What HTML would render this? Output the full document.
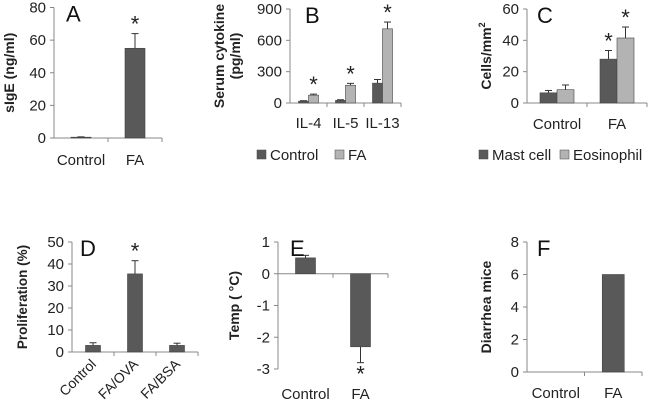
<!DOCTYPE html>
<html><head><meta charset="utf-8"><style>
html,body{margin:0;padding:0;background:#fff}
svg{display:block;font-family:"Liberation Sans",sans-serif}
</style></head><body>
<svg id="fig" width="650" height="413" viewBox="0 0 650 413"></svg>
<script>
// Panel A
const aCats = ["Control","FA"];
const aVals = [0.5,55];
const aErrs = [0.2,9];
const aTicks = [0,20,40,60,80];
// Panel B
const bCats = ["IL-4","IL-5","IL-13"];
const bControl = [18,25,190];
const bControlErr = [4,6,35];
const bFA = [75,170,710];
const bFAErr = [10,18,65];
const bTicks = [0,300,600,900];
// Panel C
const cCats = ["Control","FA"];
const cMast = [6.5,28];
const cMastErr = [1.5,5.5];
const cEos = [8.5,41.5];
const cEosErr = [3,7];
const cTicks = [0,20,40,60];
// Panel D
const dCats = ["Control","FA/OVA","FA/BSA"];
const dVals = [3,35.5,3];
const dErrs = [1.2,6,1];
const dTicks = [0,10,20,30,40,50];
// Panel E
const eCats = ["Control","FA"];
const eVals = [0.5,-2.3];
const eErrs = [0.08,0.5];
const eTicks = [-3,-2,-1,0,1];
// Panel F
const fCats = ["Control","FA"];
const fVals = [0,6];
const fTicks = [0,2,4,6,8];

const NS="http://www.w3.org/2000/svg";
const svg=document.getElementById('fig');
const DARK="#595959", LIGHT="#b3b3b3", AX="#888";
function mk(tag,attrs,parent){const e=document.createElementNS(NS,tag);for(const k in attrs)e.setAttribute(k,attrs[k]);(parent||svg).appendChild(e);return e;}
function txt(s,attrs,parent){const e=mk('text',attrs,parent);e.textContent=s;return e;}

function panel(p){
  const g=mk('g',{});
  
  
  const min=p.ticks[0],max=p.ticks[p.ticks.length-1];
  const ys=v=>p.yBot-(v-min)/(max-min)*(p.yBot-p.yTop);
  const n=p.cats.length, cw=(p.x1-p.x0)/n;
  const base=ys(p.baseVal||0);
  const ya=mk('line',{x1:p.x0,y1:ys(max),x2:p.x0,y2:ys(min),stroke:AX,'stroke-width':1},g);
  
  
  p.ticks.forEach(t=>{
    mk('line',{x1:p.x0-4,y1:ys(t),x2:p.x0,y2:ys(t),stroke:AX},g);
    const tl=txt(String(t),{x:p.x0-8,y:ys(t)+5,'text-anchor':'end','font-size':15,fill:'#222'},g);
    
    
  });
  const xa=mk('line',{x1:p.x0,y1:base,x2:p.x1,y2:base,stroke:AX},g);
  
  
  for(let i=1;i<=n;i++) mk('line',{x1:p.x0+i*cw,y1:base,x2:p.x0+i*cw,y2:base+4,stroke:AX},g);
  p.series.forEach((s,si)=>{
    s.vals.forEach((v,i)=>{
      if(v===0) return;
      const cx=p.x0+(i+0.5)*cw;
      const x=cx-p.bw*p.series.length/2+si*p.bw;
      const y0=ys(v);
      const r=mk('rect',{x:x,y:Math.min(y0,base),width:p.bw,height:Math.max(Math.abs(base-y0),0.8),fill:s.color,stroke:'#444','stroke-width':0.6},g);
      
      
      if(s.errs){
        const e=s.errs[i], bx=x+p.bw/2, ye=ys(v<0?v-e:v+e);
        mk('line',{x1:bx,y1:y0,x2:bx,y2:ye,stroke:'#333','stroke-width':1},g);
        mk('line',{x1:bx-3.5,y1:ye,x2:bx+3.5,y2:ye,stroke:'#333','stroke-width':1},g);
        if(s.stars&&s.stars[i]){
          const st=txt('*',{x:bx,y:v<0?ye+19:ye-2,'text-anchor':'middle','font-size':22,fill:'#222'},g);
          
          
        }
      }
    });
  });
  p.cats.forEach((c,i)=>{
    const cx=p.x0+(i+0.5)*cw;
    let t;
    if(p.rotate){
      t=txt(c,{x:cx+4,y:p.labelY,'text-anchor':'end','font-size':14,fill:'#222',transform:`rotate(-45 ${cx+4} ${p.labelY})`},g);
    } else {
      t=txt(c,{x:cx,y:p.labelY,'text-anchor':'middle','font-size':15,fill:'#222'},g);
    }
    
    
  });
  const L=txt(p.letter,{x:p.letterX,y:p.yTop+14,'font-size':22,fill:'#111'},g);
  
  
  p.ytitle.forEach((line,k)=>{
    const tx=p.titleX+k*16, ty=(p.yTop+p.yBot)/2;
    const t=mk('text',{x:tx,y:ty,'text-anchor':'middle','font-size':p.titleSize||14,'font-weight':'bold',fill:'#222',transform:`rotate(-90 ${tx} ${ty})`},g);
    t.innerHTML=line;
    
    
  });
  (p.legend||[]).forEach(l=>{
    const lg=mk('g',{},g);
    
    
    mk('rect',{x:l.x,y:l.y-10,width:9,height:9,fill:l.color,stroke:'#444','stroke-width':0.5},lg);
    txt(l.text,{x:l.x+13,y:l.y,'font-size':15,fill:'#222'},lg);
  });
}

panel({name:'panel-a',key:'a',x0:54,x1:162,yTop:7.5,yBot:138,ticks:aTicks,cats:aCats,bw:20,labelY:165,
  series:[{key:'v',vals:aVals,errs:aErrs,color:DARK,stars:[0,1]}],letter:'A',letterX:66,ytitle:['sIgE (ng/ml)'],titleX:14});
panel({name:'panel-b',key:'b',x0:290,x1:401,yTop:9,yBot:103,ticks:bTicks,cats:bCats,bw:10,labelY:128,
  series:[{key:'control',vals:bControl,errs:bControlErr,color:DARK},{key:'fa',vals:bFA,errs:bFAErr,color:LIGHT,stars:[1,1,1]}],
  letter:'B',letterX:305,ytitle:['Serum cytokine','(pg/ml)'],titleX:224,
  legend:[{x:257,y:160,text:'Control',color:DARK},{x:335,y:160,text:'FA',color:LIGHT}]});
panel({name:'panel-c',key:'c',x0:527,x1:647,yTop:9,yBot:103,ticks:cTicks,cats:cCats,bw:17,labelY:129,
  series:[{key:'mast',vals:cMast,errs:cMastErr,color:DARK,stars:[0,1]},{key:'eos',vals:cEos,errs:cEosErr,color:LIGHT,stars:[0,1]}],
  letter:'C',letterX:537,ytitle:['Cells/mm<tspan font-size="9" dy="-6">2</tspan>'],titleX:491,
  legend:[{x:479,y:160,text:'Mast cell',color:DARK},{x:560,y:160,text:'Eosinophil',color:LIGHT}]});
panel({name:'panel-d',key:'d',x0:72,x1:198,yTop:242,yBot:352,ticks:dTicks,cats:dCats,bw:15,labelY:365,rotate:true,titleSize:13.5,
  series:[{key:'v',vals:dVals,errs:dErrs,color:DARK,stars:[0,1,0]}],letter:'D',letterX:80,ytitle:['Proliferation (%)'],titleX:27});
panel({name:'panel-e',key:'e',x0:278,x1:388,yTop:242,yBot:369,ticks:eTicks,cats:eCats,bw:20,labelY:399,baseVal:0,
  series:[{key:'v',vals:eVals,errs:eErrs,color:DARK,stars:[0,1]}],letter:'E',letterX:290,ytitle:['Temp ( °C)'],titleX:239});
panel({name:'panel-f',key:'f',x0:527,x1:642,yTop:242,yBot:372,ticks:fTicks,cats:fCats,bw:22,labelY:398,
  series:[{key:'v',vals:fVals,color:DARK}],letter:'F',letterX:537,ytitle:['Diarrhea mice'],titleX:491});
</script>
</body></html>
